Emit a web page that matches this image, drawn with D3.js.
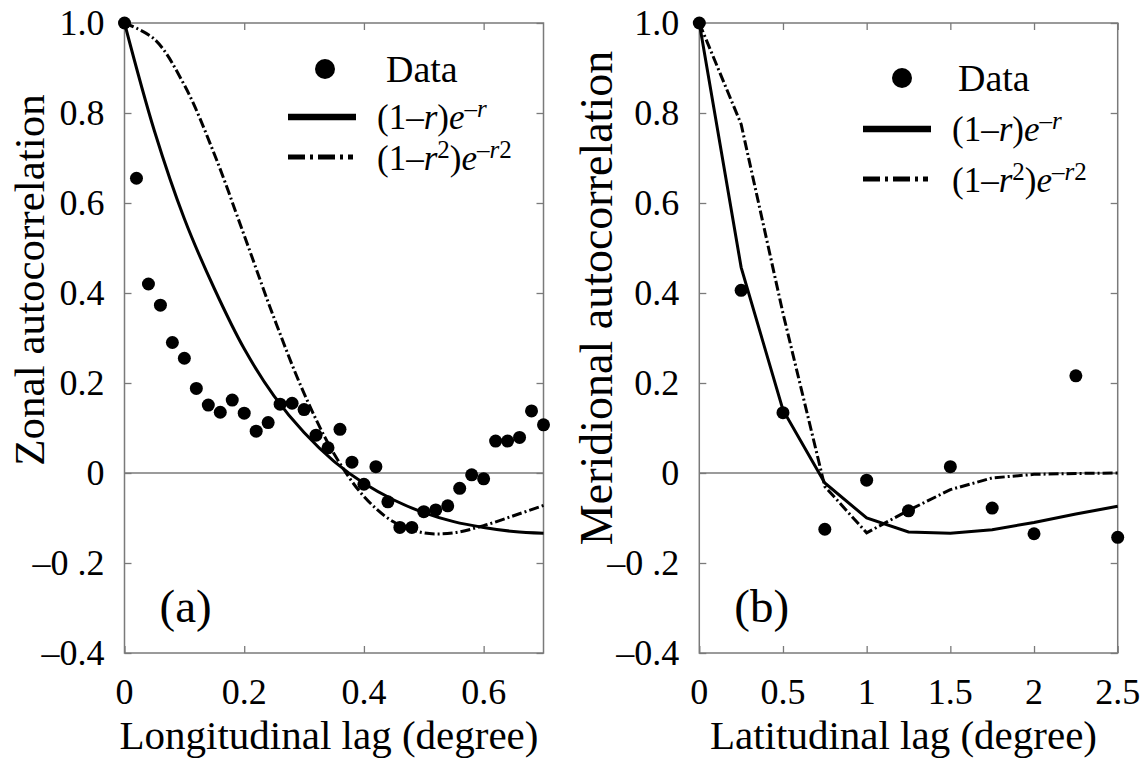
<!DOCTYPE html>
<html>
<head>
<meta charset="utf-8">
<script src="https://cdn.jsdelivr.net/npm/d3@7"></script>
<style>
  body { margin: 0; background: #fff; }
  svg { display: block; font-family: "Liberation Serif", "Times New Roman", serif; }
</style>
</head>
<body>
<div id="vis"></div>
<script>
// panel (a) zonal
const lonLag = [0, 0.02, 0.04, 0.06, 0.08, 0.10, 0.12, 0.14, 0.16, 0.18, 0.20, 0.22, 0.24, 0.26, 0.28, 0.30, 0.32, 0.34,
    0.36, 0.38, 0.40, 0.42, 0.44, 0.46, 0.48, 0.50, 0.52, 0.54, 0.56, 0.58, 0.60, 0.62, 0.64, 0.66, 0.68, 0.70]
const zonalData = [1.0, 0.655, 0.42, 0.373, 0.29, 0.255, 0.188, 0.151, 0.135, 0.162, 0.133, 0.093, 0.112, 0.153, 0.155, 0.141, 0.084, 0.056,
    0.097, 0.024, -0.025, 0.014, -0.064, -0.121, -0.121, -0.086, -0.082, -0.073, -0.034, -0.004, -0.013, 0.071, 0.071, 0.079, 0.138, 0.107]
const lonCurveLag = [0, 0.05, 0.10, 0.15, 0.20, 0.25, 0.30, 0.35, 0.40, 0.45, 0.50, 0.55, 0.60, 0.65, 0.70]
const zonalExp = [1, 0.76, 0.565, 0.41, 0.276, 0.171, 0.09, 0.026, -0.023, -0.06, -0.088, -0.108, -0.121, -0.13, -0.134]
const zonalGauss = [1, 0.964, 0.862, 0.709, 0.528, 0.344, 0.177, 0.043, -0.052, -0.109, -0.133, -0.133, -0.117, -0.095, -0.072]

// panel (b) meridional
const latLag = [0, 0.25, 0.5, 0.75, 1, 1.25, 1.5, 1.75, 2, 2.25, 2.5]
const meridData = [1.0, 0.406, 0.134, -0.125, -0.016, -0.084, 0.014, -0.078, -0.135, 0.216, -0.143]
const meridExp = [1, 0.457, 0.14, -0.022, -0.1, -0.131, -0.134, -0.126, -0.11, -0.091, -0.074]
const meridGauss = [1, 0.775, 0.355, -0.03, -0.133, -0.083, -0.037, -0.011, -0.003, -0.001, 0]

const yTicks = [1.0, 0.8, 0.6, 0.4, 0.2, 0, -0.2, -0.4]
const yTickLabels = ['1.0', '0.8', '0.6', '0.4', '0.2', '0', '\u20130 .2', '\u20130.4']
const lonTicks = [0, 0.2, 0.4, 0.6]
const lonTickLabels = ['0', '0.2', '0.4', '0.6']
const latTicks = [0, 0.5, 1, 1.5, 2, 2.5]
const latTickLabels = ['0', '0.5', '1', '1.5', '2', '2.5']

const W = 1148, H = 761
const plotTop = 23, plotBottom = 653

const svg = d3.select('#vis').append('svg')
    .attr('width', W)
    .attr('height', H)

function formula(g, x, y, squared) {
    const t = g.append('text').attr('x', x).attr('y', y).attr('font-size', 35)
    t.append('tspan').text('(1\u2013')
    t.append('tspan').attr('font-style', 'italic').text('r')
    if (squared) t.append('tspan').attr('dy', -12).attr('font-size', 25).text('2')
    t.append('tspan').attr('dy', squared ? 12 : 0).text(')')
    t.append('tspan').attr('font-style', 'italic').text('e')
    t.append('tspan').attr('dy', -12).attr('font-size', 25).text('\u2013')
    t.append('tspan').attr('font-size', 25).attr('font-style', 'italic').text('r')
    if (squared) t.append('tspan').attr('font-size', 25).text('2')
}

function drawPanel(p) {
    const x = d3.scaleLinear().domain(p.xDomain).range([p.left, p.right])
    const y = d3.scaleLinear().domain([-0.4, 1.0]).range([plotBottom, plotTop])
    const g = svg.append('g')

    // ticks on all four sides, pointing inward
    g.append('g').attr('transform', `translate(0,${plotBottom})`)
        .call(d3.axisBottom(x).tickValues(p.xTicks).tickSize(-7).tickFormat(''))
    g.append('g').attr('transform', `translate(0,${plotTop})`)
        .call(d3.axisTop(x).tickValues(p.xTicks).tickSize(-7).tickFormat(''))
    g.append('g').attr('transform', `translate(${p.left},0)`)
        .call(d3.axisLeft(y).tickValues(yTicks).tickSize(-7).tickFormat(''))
    g.append('g').attr('transform', `translate(${p.right},0)`)
        .call(d3.axisRight(y).tickValues(yTicks).tickSize(-7).tickFormat(''))
    g.selectAll('.domain').remove()
    g.selectAll('.tick line').attr('stroke', '#7a7a7a').attr('stroke-width', 1.3)

    g.append('rect')
        .attr('x', p.left).attr('y', plotTop)
        .attr('width', p.right - p.left).attr('height', plotBottom - plotTop)
        .attr('fill', 'none').attr('stroke', '#7a7a7a').attr('stroke-width', 1.5)

    g.append('line')
        .attr('x1', p.left).attr('x2', p.right)
        .attr('y1', y(0)).attr('y2', y(0))
        .attr('stroke', '#7a7a7a').attr('stroke-width', 1.5)

    // tick labels
    g.selectAll('.xlab').data(p.xTicks).enter().append('text')
        .attr('x', d => x(d)).attr('y', 704)
        .attr('text-anchor', 'middle').attr('font-size', 36)
        .text((d, i) => p.xLabels[i])
    g.selectAll('.ylab').data(yTicks).enter().append('text')
        .attr('x', p.left - 20).attr('y', d => y(d) + 12)
        .attr('text-anchor', 'end').attr('font-size', 36)
        .text((d, i) => yTickLabels[i])

    // axis titles
    g.append('text')
        .attr('x', (p.left + p.right) / 2 - 5).attr('y', 749)
        .attr('text-anchor', 'middle').attr('font-size', 41)
        .text(p.xTitle)
    g.append('text')
        .attr('transform', `translate(${p.yTitleX},${p.yTitleY}) rotate(-90)`)
        .attr('text-anchor', 'middle').attr('font-size', p.yTitleSize)
        .text(p.yTitle)

    // curves
    const line = d3.line().x(d => x(d[0])).y(d => y(d[1])).curve(p.curve)
    g.append('path')
        .datum(p.curveLag.map((d, i) => [d, p.gauss[i]]))
        .attr('d', line).attr('fill', 'none')
        .attr('stroke', '#000').attr('stroke-width', 3)
        .attr('stroke-dasharray', '10,3,2,3')
    g.append('path')
        .datum(p.curveLag.map((d, i) => [d, p.exp[i]]))
        .attr('d', line).attr('fill', 'none')
        .attr('stroke', '#000').attr('stroke-width', 3)

    g.selectAll('.dot').data(p.lag).enter().append('circle')
        .attr('cx', d => x(d)).attr('cy', (d, i) => y(p.data[i]))
        .attr('r', 6.5).attr('fill', '#000')

    // panel letter
    g.append('text').attr('x', p.left + 35).attr('y', 622)
        .attr('font-size', 47).text(p.letter)

    // legend
    const L = p.legend
    g.append('circle').attr('cx', L.dotX).attr('cy', L.y0).attr('r', 10).attr('fill', '#000')
    g.append('text').attr('x', L.textX0).attr('y', L.y0 + 13).attr('font-size', 38).text('Data')
    g.append('line').attr('x1', L.lineX).attr('x2', L.lineX + 68)
        .attr('y1', L.y1).attr('y2', L.y1).attr('stroke', '#000').attr('stroke-width', 6.5)
    formula(g, L.textX, L.y1 + 12, false)
    g.append('line').attr('x1', L.lineX).attr('x2', L.lineX + 65)
        .attr('y1', L.y2).attr('y2', L.y2).attr('stroke', '#000').attr('stroke-width', 5)
        .attr('stroke-dasharray', '17,5,3,5')
    formula(g, L.textX, L.y2 + 13, true)
}

drawPanel({
    left: 124.5, right: 543.5, xDomain: [0, 0.7],
    xTicks: lonTicks, xLabels: lonTickLabels,
    xTitle: 'Longitudinal lag (degree)',
    yTitle: 'Zonal autocorrelation', yTitleX: 44, yTitleY: 280, yTitleSize: 43,
    lag: lonLag, data: zonalData,
    curveLag: lonCurveLag, exp: zonalExp, gauss: zonalGauss,
    curve: d3.curveCatmullRom,
    letter: '(a)',
    legend: {dotX: 325, textX0: 386, y0: 69, lineX: 288, textX: 377, y1: 117, y2: 157}
})

drawPanel({
    left: 699.3, right: 1117.7, xDomain: [0, 2.5],
    xTicks: latTicks, xLabels: latTickLabels,
    xTitle: 'Latitudinal lag (degree)',
    yTitle: 'Meridional autocorrelation', yTitleX: 612, yTitleY: 298, yTitleSize: 46,
    lag: latLag, data: meridData,
    curveLag: latLag, exp: meridExp, gauss: meridGauss,
    curve: d3.curveLinear,
    letter: '(b)',
    legend: {dotX: 902, textX0: 958, y0: 78, lineX: 863, textX: 952, y1: 129, y2: 179}
})
</script>
</body>
</html>
